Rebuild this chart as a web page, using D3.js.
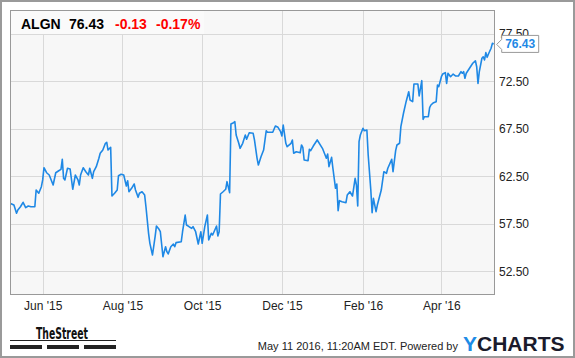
<!DOCTYPE html>
<html>
<head>
<meta charset="utf-8">
<script src="https://cdn.jsdelivr.net/npm/d3@7"></script>
<style>
  body { margin: 0; background: #fff; }
  svg { display: block; font-family: "Liberation Sans", Arial, sans-serif; }
</style>
</head>
<body>
<svg id="chart" width="575" height="358"></svg>
<script>
// header values
const ticker = "ALGN";
const lastPrice = "76.43";
const priceChange = "-0.13";
const pctChange = "-0.17%";
const stamp = "May 11 2016, 11:20AM EDT. Powered by";

// closes, day offsets counted from May 7 2015
const dayOffsets = [
  0, 3, 5, 6, 8, 10, 12, 14, 16, 19,
  20, 22, 24, 25, 26, 28, 30, 33, 35, 37,
  39, 40, 41, 42, 44, 46, 48, 50, 52, 53,
  54, 56, 58, 60, 61, 63, 64, 66, 68, 69,
  71, 73, 74, 75, 77, 78, 80, 82, 83, 85,
  87, 89, 90, 91, 93, 95, 96, 98, 99, 101,
  103, 104, 106, 107, 109, 111, 112, 114, 115, 117,
  119, 120, 121, 123, 125, 126, 127, 131, 132, 134,
  135, 137, 139, 140, 142, 144, 146, 147, 149, 151,
  152, 154, 155, 158, 159, 160, 161, 163, 165, 166,
  168, 169, 171, 172, 173, 175, 176, 178, 180, 181,
  183, 186, 187, 189, 190, 192, 194, 196, 197, 201,
  203, 205, 207, 208, 209, 211, 212, 215, 216, 217,
  219, 222, 223, 224, 225, 228, 229, 230, 232, 235,
  239, 242, 243, 244, 246, 247, 249, 250, 251, 252,
  254, 257, 258, 260, 262, 264, 265, 266, 267, 268,
  270, 271, 273, 274, 276, 277, 278, 280, 281, 284,
  286, 288, 289, 292, 293, 295, 296, 298, 299, 301,
  303, 305, 306, 308, 309, 312, 313, 315, 316, 317,
  320, 321, 322, 324, 326, 327, 328, 330, 331, 333,
  334, 335, 337, 339, 341, 343, 345, 346, 347, 348,
  349, 352, 354, 356, 357, 358, 359, 361, 362, 363,
  364, 365, 366, 368, 369, 370
];
const closes = [
  59.65, 59.47, 58.60, 58.95, 59.29, 59.76, 59.19, 59.37, 59.29, 59.29,
  61.05, 60.71, 61.40, 62.11, 63.40, 62.87, 62.63, 61.58, 62.87, 63.05,
  63.23, 64.28, 62.28, 62.11, 63.34, 63.26, 61.13, 62.63, 62.11, 61.58,
  62.63, 63.40, 62.98, 62.63, 63.34, 62.28, 62.98, 63.51, 64.39, 64.92,
  65.26, 65.97, 66.07, 65.26, 65.55, 60.42, 60.71, 61.05, 62.56, 62.71,
  62.63, 61.47, 62.03, 60.87, 61.23, 61.68, 61.05, 60.28, 60.71, 60.87,
  60.53, 59.29, 56.49, 55.44, 54.21, 56.14, 57.26, 56.92, 56.66, 54.03,
  55.08, 54.56, 54.32, 55.08, 55.37, 55.08, 55.51, 55.61, 56.66, 58.42,
  57.37, 57.19, 57.02, 57.19, 56.66, 55.37, 56.66, 55.44, 57.19, 58.42,
  55.79, 56.49, 56.32, 57.26, 56.21, 56.66, 60.63, 60.87, 61.13, 61.93,
  60.77, 68.00, 68.14, 68.24, 66.84, 65.97, 65.44, 65.97, 66.84, 66.39,
  67.08, 67.02, 66.32, 64.39, 63.68, 64.56, 65.26, 67.29, 67.13, 67.13,
  67.79, 67.65, 67.19, 66.74, 67.89, 65.97, 65.61, 65.97, 66.32, 64.92,
  65.08, 64.98, 65.79, 65.55, 64.21, 64.14, 65.34, 65.19, 65.68, 66.32,
  65.44, 64.39, 64.84, 63.51, 64.49, 63.34, 61.23, 61.68, 58.87, 59.93,
  59.82, 59.72, 60.53, 60.87, 60.42, 62.28, 61.58, 59.37, 66.14, 66.84,
  67.55, 67.29, 67.37, 64.74, 61.05, 58.66, 60.18, 58.77, 59.47, 61.05,
  62.98, 62.81, 63.34, 64.28, 62.98, 65.19, 65.79, 65.97, 67.72, 69.13,
  70.35, 71.40, 70.53, 70.35, 72.21, 72.21, 70.95, 72.56, 68.49, 68.77,
  68.77, 69.72, 70.00, 70.24, 70.35, 72.11, 71.93, 72.98, 73.26, 73.40,
  72.28, 73.34, 72.98, 73.26, 73.05, 73.05, 73.51, 73.34, 73.51, 72.81,
  73.34, 73.97, 74.39, 74.66, 74.03, 72.28, 73.51, 74.92, 75.08, 74.74,
  75.51, 75.02, 75.37, 75.97, 76.49, 76.43
];

// axes
const yTicks = [52.5, 57.5, 62.5, 67.5, 72.5, 77.5];
const xTickDates = ["2015-06-01", "2015-08-01", "2015-10-01", "2015-12-01", "2016-02-01", "2016-04-01"];
const xTickLabels = ["Jun '15", "Aug '15", "Oct '15", "Dec '15", "Feb '16", "Apr '16"];

let pLeft = 10, pRight = 495, pTop = 10, pBottom = 295; //plot box

let parse = d3.timeParse("%Y-%m-%d");
let start = parse("2015-05-07");

let data = dayOffsets.map((d, i) => ({ date: d3.timeDay.offset(start, d), close: closes[i] }));

let x = d3
  .scaleTime()
  .domain([start, parse("2016-05-12")])
  .range([pLeft, pRight]);

let y = d3.scaleLinear().domain([50, 80]).range([pBottom, pTop]);

let svg = d3.select("#chart");

//outer frame
svg
  .append("rect")
  .attr("x", 1)
  .attr("y", 1)
  .attr("width", 573)
  .attr("height", 356)
  .attr("fill", "#fff")
  .attr("stroke", "#9a9a9a")
  .attr("stroke-width", 2);

//plot background
svg
  .append("rect")
  .attr("x", pLeft)
  .attr("y", pTop)
  .attr("width", pRight - pLeft)
  .attr("height", pBottom - pTop)
  .attr("fill", "#f7f7f7");

//horizontal grid
svg
  .append("g")
  .selectAll("line")
  .data(yTicks)
  .join("line")
  .attr("x1", pLeft)
  .attr("x2", pRight)
  .attr("y1", (d) => Math.round(y(d)) + 0.5)
  .attr("y2", (d) => Math.round(y(d)) + 0.5)
  .attr("stroke", "#d9d9d9");

//vertical grid
svg
  .append("g")
  .selectAll("line")
  .data(xTickDates)
  .join("line")
  .attr("x1", (d) => Math.round(x(parse(d))) + 0.5)
  .attr("x2", (d) => Math.round(x(parse(d))) + 0.5)
  .attr("y1", pTop)
  .attr("y2", pBottom)
  .attr("stroke", "#d9d9d9");

svg
  .append("clipPath")
  .attr("id", "clip")
  .append("rect")
  .attr("x", pLeft)
  .attr("y", pTop)
  .attr("width", pRight - pLeft)
  .attr("height", pBottom - pTop);

//price line
let line = d3
  .line()
  .x((d) => x(d.date))
  .y((d) => y(d.close));

svg
  .append("path")
  .datum(data)
  .attr("clip-path", "url(#clip)")
  .attr("d", line)
  .attr("fill", "none")
  .attr("stroke", "#1e88e5")
  .attr("stroke-width", 1.6)
  .attr("stroke-linejoin", "round");

//plot border
svg
  .append("rect")
  .attr("x", pLeft + 0.5)
  .attr("y", pTop + 0.5)
  .attr("width", pRight - pLeft - 1)
  .attr("height", pBottom - pTop - 1)
  .attr("fill", "none")
  .attr("stroke", "#999");

//header box
svg
  .append("rect")
  .attr("x", pLeft + 1)
  .attr("y", pTop + 1)
  .attr("width", 193)
  .attr("height", 23)
  .attr("fill", "#fafafa");

let head = svg
  .append("text")
  .attr("y", 28.5)
  .style("font-size", "14px")
  .style("font-weight", "bold");
head.append("tspan").attr("x", 21).attr("fill", "#000").text(ticker);
head.append("tspan").attr("x", 69).attr("fill", "#000").text(lastPrice);
head.append("tspan").attr("x", 115).attr("fill", "#f00").text(priceChange);
head.append("tspan").attr("x", 156).attr("fill", "#f00").text(pctChange);

//right axis
let yAxis = d3
  .axisRight(y)
  .tickValues(yTicks)
  .tickSize(0)
  .tickPadding(4)
  .tickFormat(d3.format(".2f"));

svg
  .append("g")
  .attr("transform", `translate(${pRight},0)`)
  .call(yAxis)
  .call((g) => g.select(".domain").remove())
  .selectAll("text")
  .attr("fill", "#222")
  .style("font-size", "12px")
  .style("font-family", "Liberation Sans, Arial, sans-serif");

//bottom axis
let xAxis = d3
  .axisBottom(x)
  .tickValues(xTickDates.map(parse))
  .tickSize(0)
  .tickPadding(6)
  .tickFormat((d, i) => xTickLabels[i]);

svg
  .append("g")
  .attr("transform", `translate(0,${pBottom})`)
  .call(xAxis)
  .call((g) => g.select(".domain").remove())
  .selectAll("text")
  .attr("fill", "#222")
  .style("font-size", "12px")
  .style("font-family", "Liberation Sans, Arial, sans-serif");

//last price flag
let last = data[data.length - 1];
let fy = y(last.close);
let flag = svg.append("g").attr("transform", `translate(${x(last.date)},${fy})`);
flag
  .append("path")
  .attr("d", "M3,0.5 L8,-4.5 L8,-8.5 L45,-8.5 L45,8.5 L8,8.5 L8,5.5 Z")
  .attr("fill", "#fff")
  .attr("stroke", "#999");
flag
  .append("text")
  .attr("x", 26.5)
  .attr("y", 4.5)
  .attr("text-anchor", "middle")
  .attr("fill", "#1e88e5")
  .style("font-size", "12px")
  .style("font-weight", "bold")
  .text(last.close.toFixed(2));

//footer: TheStreet mark
svg
  .append("text")
  .attr("x", 36)
  .attr("y", 339)
  .attr("textLength", 52)
  .attr("lengthAdjust", "spacingAndGlyphs")
  .style("font-family", "Liberation Sans Narrow, DejaVu Sans Condensed, sans-serif")
  .style("font-size", "15px")
  .style("font-weight", "bold")
  .attr("fill", "#111")
  .text("TheStreet");

svg
  .append("line")
  .attr("x1", 10)
  .attr("x2", 116)
  .attr("y1", 340.5)
  .attr("y2", 340.5)
  .attr("stroke", "#222");

svg
  .append("g")
  .selectAll("rect")
  .data([10, 47, 84])
  .join("rect")
  .attr("x", (d) => d)
  .attr("y", 345)
  .attr("width", 32)
  .attr("height", 4)
  .attr("fill", "#222");

//footer: timestamp + ycharts
svg
  .append("text")
  .attr("x", 458)
  .attr("y", 350)
  .attr("text-anchor", "end")
  .attr("fill", "#222")
  .style("font-size", "11px")
  .text(stamp);

let yc = svg
  .append("text")
  .attr("x", 463)
  .attr("y", 351)
  .style("font-size", "21px")
  .style("font-weight", "bold");
yc.append("tspan").attr("fill", "#1e8ce6").text("Y");
yc.append("tspan").attr("fill", "#1b1b2b").text("CHARTS");
</script>
</body>
</html>
